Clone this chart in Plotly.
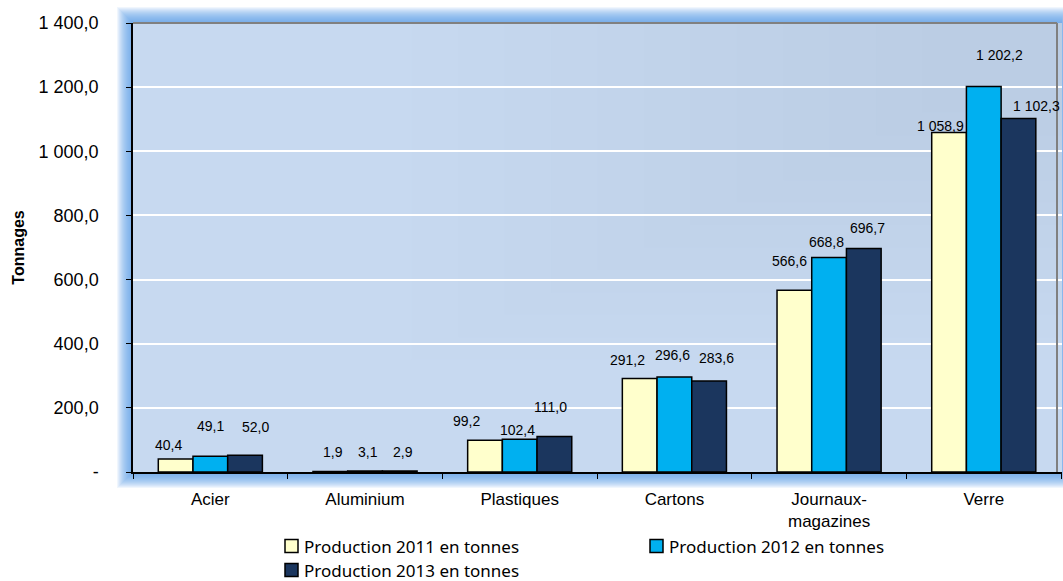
import plotly.graph_objects as go

categories = ["Acier", "Aluminium", "Plastiques", "Cartons", "Journaux-<br>magazines", "Verre"]
prod_2011 = [40.4, 1.9, 99.2, 291.2, 566.6, 1058.9]
prod_2012 = [49.1, 3.1, 102.4, 296.6, 668.8, 1202.2]
prod_2013 = [52.0, 2.9, 111.0, 283.6, 696.7, 1102.3]
series_names = ["Production 2011 en tonnes", "Production 2012 en tonnes", "Production 2013 en tonnes"]
series_colors = ["#FFFFCC", "#00B0F0", "#1B365E"]
y_ticks = [0, 200, 400, 600, 800, 1000, 1200, 1400]

# hand-placed value labels: pixel nudges (right, down) from the top centre of each bar
label_dx = [[-7, 3, -18, -12, -4.5, -9], [0, 3, -2, -2, -2.5, 16], [10, 3, -4, 7, 4, 18]]
label_dy = [[-14, -19, -19, -19, -29, -6], [-30, -19, -9, -22, -16, -31], [-28, -19, -29, -23, -21, -12]]

# legend key boxes (left edge, vertical centre) in pixels
legend_slots = [(285, 546), (650, 546), (285, 570)]


def fr_number(v):
    s = f"{v:,.1f}"
    return s.replace(",", " ").replace(".", ",")


y_ticktext = ["-" if v == 0 else fr_number(v) for v in y_ticks]

LEFT, RIGHT, TOP, BOTTOM = 133, 1062, 23, 472
PLOT_W = RIGHT - LEFT
PLOT_H = BOTTOM - TOP
BARGAP = 0.327
BAR_W = PLOT_W / len(categories) * (1 - BARGAP) / 3


def px_x(x):
    return (x - LEFT) / PLOT_W


def px_y(y):
    return (BOTTOM - y) / PLOT_H


fig = go.Figure()
annotations = []
for k, (name, vals, color) in enumerate(zip(series_names, [prod_2011, prod_2012, prod_2013], series_colors)):
    fig.add_trace(go.Bar(
        x=categories, y=vals, name=name, showlegend=False,
        marker=dict(color=color, line=dict(color="#000000", width=1.5)),
    ))
    for i, (cat, v) in enumerate(zip(categories, vals)):
        annotations.append(dict(
            x=cat, y=v, xref="x", yref="y", text=fr_number(v), showarrow=False,
            xanchor="center", yanchor="middle",
            xshift=(k - 1) * BAR_W + label_dx[k][i], yshift=-label_dy[k][i],
            font=dict(family="Liberation Sans, Arial", size=14, color="#000000"),
        ))

shapes = []
# soft blue halo around the plot area
for pad in range(16, 0, -1):
    px = pad / PLOT_W
    py = pad / PLOT_H
    shapes.append(dict(type="rect", xref="paper", yref="paper", layer="below",
                       x0=-px, x1=1 + px * 0.1, y0=-py, y1=1 + py,
                       fillcolor="#5c97e6", opacity=0.09, line=dict(width=0)))
# plot area background
shapes.append(dict(type="rect", xref="paper", yref="paper", layer="below",
                   x0=0, x1=1, y0=0, y1=1, fillcolor="#c7d9f0", line=dict(width=0)))
# gentle shading towards the upper right
for i in range(12):
    shapes.append(dict(type="rect", xref="paper", yref="paper", layer="below",
                       x0=0.3 + i * 0.05, x1=1, y0=0.25 + i * 0.05, y1=1,
                       fillcolor="#9fbde6", opacity=0.035, line=dict(width=0)))
# top and right borders
x_border = px_x(1057)
shapes.append(dict(type="line", xref="paper", yref="paper", x0=0, x1=x_border, y0=1, y1=1,
                   line=dict(color="#808080", width=2)))
shapes.append(dict(type="line", xref="paper", yref="paper", x0=x_border, x1=x_border, y0=0, y1=1,
                   line=dict(color="#808080", width=2)))

# legend: key boxes and labels
for (lx, ly), name, color in zip(legend_slots, series_names, series_colors):
    shapes.append(dict(type="rect", xref="paper", yref="paper",
                       x0=px_x(lx), x1=px_x(lx + 13), y0=px_y(ly + 6.5), y1=px_y(ly - 6.5),
                       fillcolor=color, line=dict(color="#000000", width=1.5)))
    annotations.append(dict(
        x=px_x(lx + 17), y=px_y(ly), xref="paper", yref="paper", text=name,
        showarrow=False, xanchor="left", yanchor="middle",
        font=dict(family="Noto Sans, Open Sans", size=17, color="#000000"),
    ))

fig.update_layout(
    width=1063, height=581,
    margin=dict(l=LEFT, r=1063 - RIGHT, t=TOP, b=581 - BOTTOM),
    paper_bgcolor="#ffffff",
    plot_bgcolor="rgba(0,0,0,0)",
    showlegend=False,
    barmode="group",
    bargap=BARGAP,
    bargroupgap=0,
    font=dict(family="Liberation Sans, Arial", size=17, color="#000000"),
    shapes=shapes,
    annotations=annotations,
    xaxis=dict(
        automargin=False,
        showline=True, linecolor="#000000", linewidth=1.5,
        ticks="outside", tickson="boundaries", ticklen=5, tickcolor="#000000",
        tickfont=dict(size=17),
        ticklabelstandoff=11,
        showgrid=False,
    ),
    yaxis=dict(
        automargin=False,
        range=[0, 1400], tickvals=y_ticks, ticktext=y_ticktext,
        showline=True, linecolor="#000000", linewidth=1.5,
        ticks="outside", ticklen=5, tickcolor="#000000",
        tickfont=dict(size=18),
        ticklabelstandoff=24,
        showgrid=True, gridcolor="#ffffff", gridwidth=2,
        zeroline=False,
        title=dict(text="<b>Tonnages</b>", font=dict(size=16), standoff=10),
    ),
)

fig.write_html("out.html")
